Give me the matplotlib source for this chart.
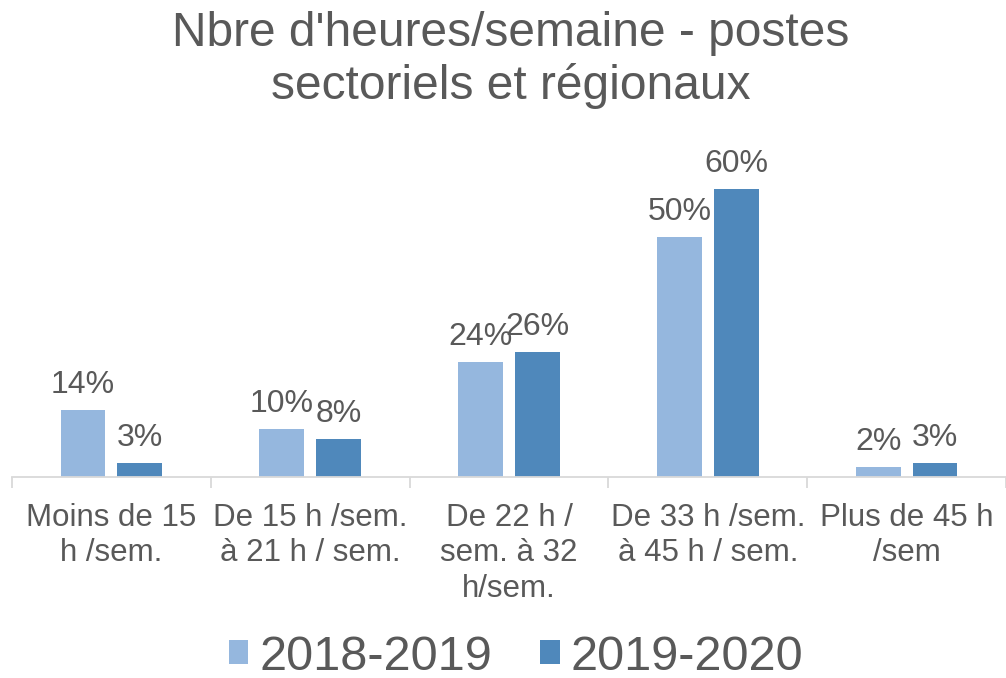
import numpy as np
import matplotlib
matplotlib.use('Agg')
from matplotlib import pyplot as plt

categories = ['Moins de 15\nh /sem.', 'De 15 h /sem.\nà 21 h / sem.', 'De 22 h /\nsem. à 32\nh/sem.',
              'De 33 h /sem.\nà 45 h / sem.', 'Plus de 45 h\n/sem']
series_names = ['2018-2019', '2019-2020']
vals_2018 = [14, 10, 24, 50, 2]
vals_2019 = [3, 8, 26, 60, 3]

plt.rcParams['font.family'] = ['Liberation Sans', 'DejaVu Sans']
txtcol = '#595959'
colors = ['#95B7DE', '#4F88BB']

fig = plt.figure(figsize=(10.06, 6.78), dpi=100)
ax = fig.add_axes([12/1006, (678-477)/678, 994/1006, (477-141)/678])

x = np.arange(len(categories))
w = 0.226
off = 0.143
for i, (vals, c) in enumerate(zip([vals_2018, vals_2019], colors)):
    pos = x + (-off if i == 0 else off)
    bars = ax.bar(pos, vals, width=w, color=c, label=series_names[i])
    for b, v in zip(bars, vals):
        ax.annotate('%d%%' % v, (b.get_x() + b.get_width()/2, v), xytext=(0, 18),
                    textcoords='offset points', ha='center', va='center',
                    fontsize=23, color=txtcol)

ax.set_xlim(-0.5, len(categories) - 0.5)
ax.set_ylim(0, 70)
for s in ['top', 'right', 'left']:
    ax.spines[s].set_visible(False)
ax.spines['bottom'].set_color('#D9D9D9')
ax.spines['bottom'].set_linewidth(1.3)
ax.set_yticks([])
ax.set_xticks(x)
ax.set_xticklabels(categories, fontsize=22.5, color=txtcol, linespacing=1.22)
ax.tick_params(axis='x', which='major', length=0, pad=19)
ax.set_xticks(np.arange(-0.5, len(categories)), minor=True)
ax.tick_params(axis='x', which='minor', length=8, color='#D9D9D9', width=1.3)

fig.text(511/1006, 1 - 60/678, "Nbre d'heures/semaine - postes\nsectoriels et régionaux",
         ha='center', va='center', fontsize=34.5, color=txtcol, linespacing=1.2)

leg = fig.legend(loc='center', bbox_to_anchor=(516/1006, 1 - 657/678), ncol=2,
                 frameon=False, fontsize=35, handlelength=0.4, handleheight=0.4,
                 handletextpad=0.22, columnspacing=1.0, borderpad=0.1)
for t in leg.get_texts():
    t.set_color(txtcol)

fig.savefig('out.png', dpi=100)
